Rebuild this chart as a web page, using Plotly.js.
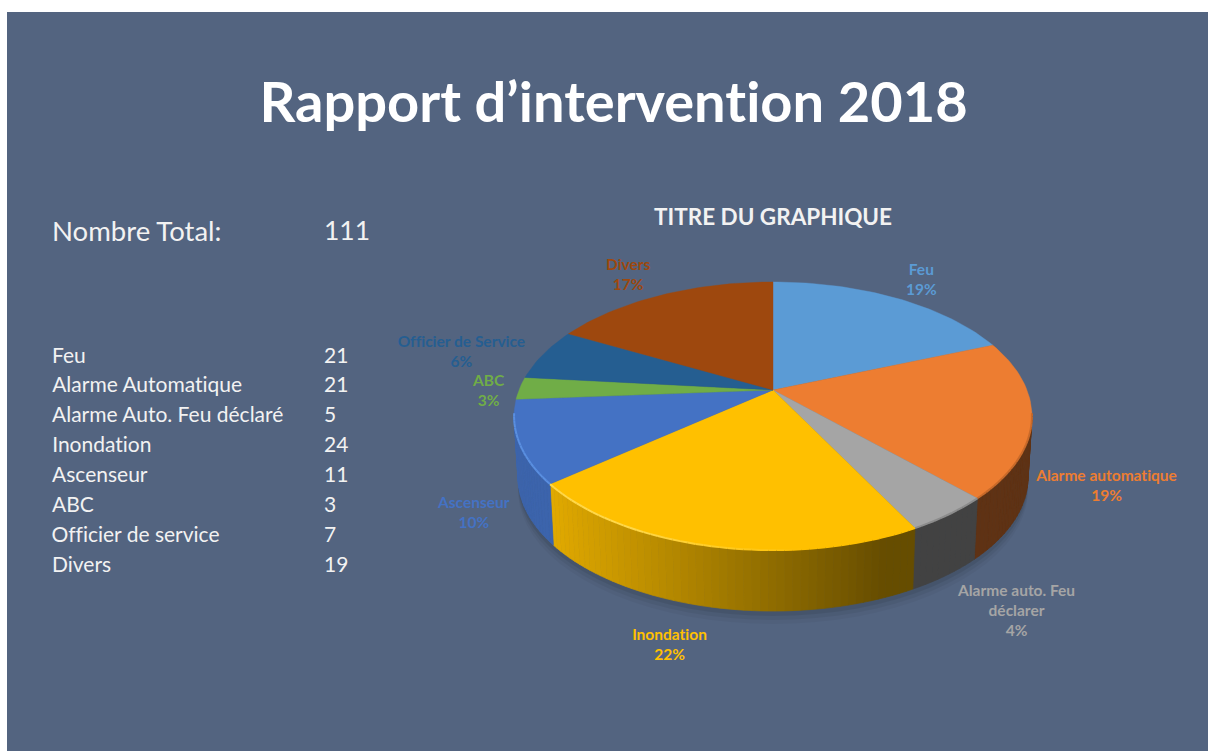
<!DOCTYPE html>
<html>
<head>
<meta charset="utf-8">
<script src="https://cdn.plot.ly/plotly-3.0.1.min.js"></script>
<style>html,body{margin:0;padding:0;background:#fff}#chart{width:1208px;height:751px}
#chart text{font-variant-ligatures:none;font-feature-settings:"liga" 0}</style>
</head>
<body>
<div id="chart"></div>
<script>
// Table data
const tableCategories = ["Feu","Alarme Automatique","Alarme Auto. Feu déclaré","Inondation","Ascenseur","ABC","Officier de service","Divers"];
const tableValues = [21,21,5,24,11,3,7,19];
const totalLabel = "Nombre Total:";
const totalValue = 111;

// Pie data
const sliceValues = [21,21,5,24,11,3,7,19];
const sliceLabels = ["Feu","Alarme automatique","Alarme auto. Feu<br>déclarer","Inondation","Ascenseur","ABC","Officier de Service","Divers"];
const slicePercents = ["19%","19%","4%","22%","10%","3%","6%","17%"];

// Styles
const sliceColors = ["#5b9bd5","#ed7d31","#a5a5a5","#ffc000","#4472c4","#70ad47","#255e91","#9e480e"];
const rimColors = [null,"#c96a2a","#8c8c8c","#ffd84a","#5a8fe0",null,null,null];
const labelPos = [[921,279],[1106,485],[1016,610],[669,644],[473,512],[488,390],[461,351],[628,274]];
const bg = "#536480";

// Projection of the pie disc (perspective view)
const cx = 773, cy = 390, R = 254, S = 129, K = 0.194, DEPTH = 61, SHRINK = 0.985;
const WALL_FROM = 100, WALL_TO = 260;
function proj(deg){
  const a = deg*Math.PI/180, u = Math.sin(a), v = -Math.cos(a), w = 1/(1-K*v);
  return [cx+R*u*w, cy+S*v*w];
}
function low(p){ return [cx+(p[0]-cx)*SHRINK, p[1]+DEPTH]; }
function hex(c){ return [1,3,5].map(i=>parseInt(c.substr(i,2),16)); }
function shadeFactor(x){
  if (x<=552) return 0.88;
  if (x>=885) return 0.40;
  return 0.88-(x-552)/(885-552)*0.48;
}
function shade(c,f){ return "rgb("+hex(c).map(v=>Math.round(v*f)).join(",")+")"; }
function mix(c1,c2,t){ const a=hex(c1),b=hex(c2); return "rgb("+a.map((v,i)=>Math.round(v+(b[i]-v)*t)).join(",")+")"; }

const total = sliceValues.reduce((a,b)=>a+b,0);
const bounds = [0];
sliceValues.forEach(v=>bounds.push(bounds[bounds.length-1]+v/total*360));

const traces = [];
function poly(pts,fill,lineW){
  traces.push({type:"scatter",mode:"lines",x:pts.map(p=>p[0]),y:pts.map(p=>p[1]),fill:"toself",fillcolor:fill,
    line:{color:fill,width:lineW},hoverinfo:"skip",showlegend:false});
}
// Soft shadow under the pie
[[13,0.035],[9,0.05],[5,0.07]].forEach(s=>{
  const pts=[];
  for(let d=0;d<=360;d+=4){ const p=low(proj(d)); pts.push([p[0],p[1]+s[0]]); }
  poly(pts,"rgba(0,0,0,"+s[1]+")",0);
});
// Side wall, strip by strip
sliceValues.forEach((v,i)=>{
  const a0=Math.max(bounds[i],WALL_FROM), a1=Math.min(bounds[i+1],WALL_TO);
  if(a1<=a0) return;
  const n=Math.max(1,Math.ceil((a1-a0)/1.5));
  for(let j=0;j<n;j++){
    const d0=a0+(a1-a0)*j/n, d1=a0+(a1-a0)*(j+1)/n;
    const t0=proj(d0), t1=proj(d1);
    const col=shade(sliceColors[i],shadeFactor((t0[0]+t1[0])/2));
    poly([t0,t1,low(t1),low(t0),t0],col,0.7);
  }
});
// Top faces
sliceValues.forEach((v,i)=>{
  const pts=[[cx,cy]], a0=bounds[i], a1=bounds[i+1], n=Math.ceil((a1-a0)/1.5);
  for(let j=0;j<=n;j++) pts.push(proj(a0+(a1-a0)*j/n));
  pts.push([cx,cy]);
  poly(pts,sliceColors[i],0.4);
});
// Bevel highlight on the rim, fading into the face colour towards the right of the front
sliceValues.forEach((v,i)=>{
  if(!rimColors[i]) return;
  const a0=Math.max(bounds[i],WALL_FROM), a1=Math.min(bounds[i+1],WALL_TO), n=Math.ceil((a1-a0)/1.5);
  for(let j=0;j<n;j++){
    const p0=proj(a0+(a1-a0)*j/n), p1=proj(a0+(a1-a0)*(j+1)/n);
    const t = i===3 ? Math.min(1,Math.max(0,(p0[0]-640)/170)) : 0;
    traces.push({type:"scatter",mode:"lines",x:[p0[0],p1[0]],y:[p0[1],p1[1]],
      line:{color:mix(rimColors[i],sliceColors[i],t),width:2},hoverinfo:"skip",showlegend:false});
  }
});

const LATO = "Lato, 'Open Sans', sans-serif";
function txt(x,y,text,size,color,anchor,bold){
  return {x,y,xref:"x",yref:"y",text:bold?"<b>"+text+"</b>":text,showarrow:false,xanchor:anchor,yanchor:"middle",
    align:"center",font:{family:LATO,size,color}};
}
const ann = [
  txt(613,100,"Rapport d’intervention 2018",56,"#ffffff","center",true),
  txt(49.5,230,totalLabel,27.5,"#f2f2f2","left",false),
  txt(321.5,230,String(totalValue),26.5,"#f2f2f2","left",false),
  txt(773,216,"TITRE DU GRAPHIQUE",22.5,"#f2f2f2","center",true)
];
tableCategories.forEach((c,i)=>{
  const y=354+i*29.97;
  ann.push(txt(49.5,y,c,21,"#f2f2f2","left",false));
  ann.push(txt(321.5,y,String(tableValues[i]),21,"#f2f2f2","left",false));
});
sliceLabels.forEach((l,i)=>{
  const a=txt(labelPos[i][0],labelPos[i][1],l+"<br>"+slicePercents[i],15.5,sliceColors[i],"center",true);
  a.text="<b>"+l.replace("<br>","</b><br><b>")+"</b><br><b>"+slicePercents[i]+"</b>";
  ann.push(a);
});

const layout = {
  width:1208,height:751,margin:{l:0,r:0,t:0,b:0},
  paper_bgcolor:"#ffffff",plot_bgcolor:"#ffffff",showlegend:false,
  xaxis:{range:[0,1208],visible:false,fixedrange:true},
  yaxis:{range:[751,0],visible:false,fixedrange:true},
  shapes:[{type:"rect",layer:"below",xref:"x",yref:"y",x0:7,x1:1208,y0:12,y1:751,fillcolor:bg,line:{width:0}}],
  annotations:ann
};
Plotly.newPlot("chart",traces,layout,{displayModeBar:false,staticPlot:true});
</script>
</body>
</html>
